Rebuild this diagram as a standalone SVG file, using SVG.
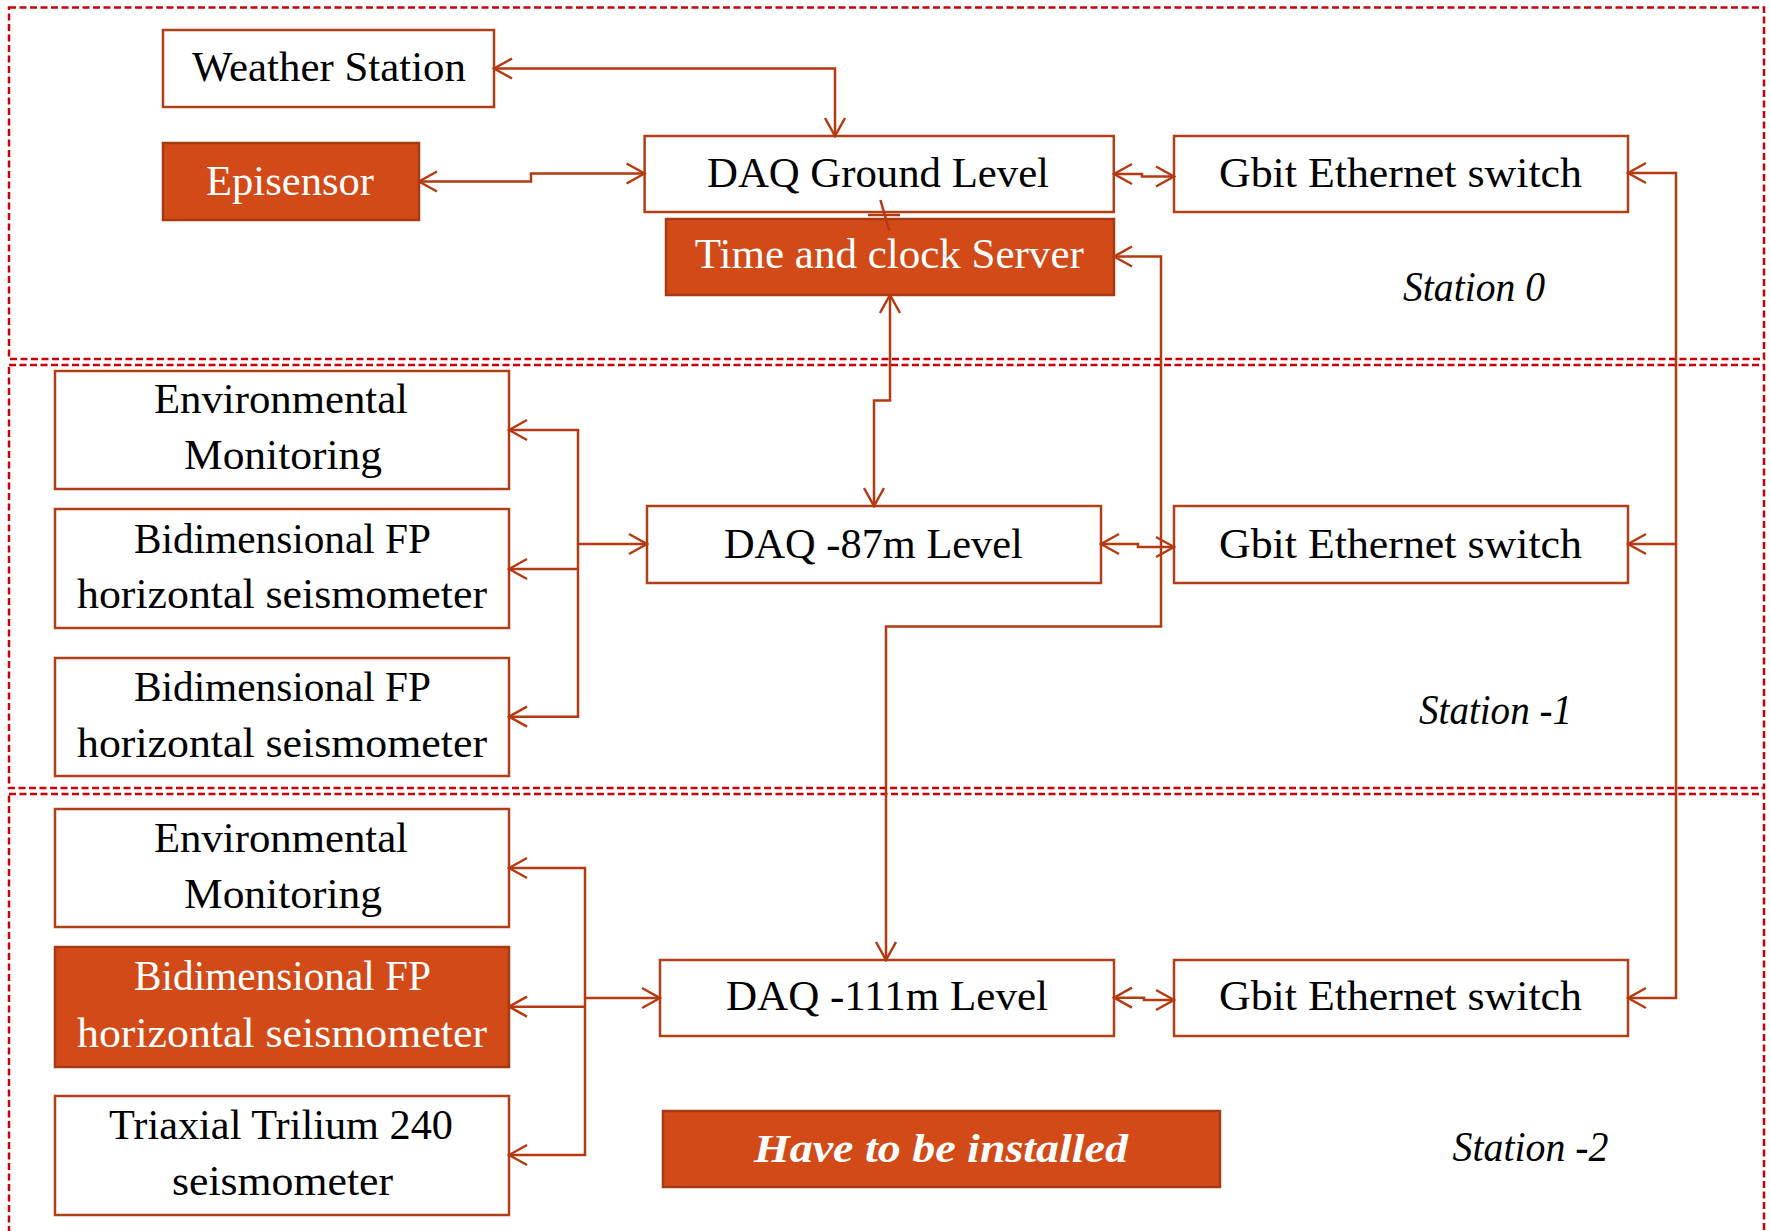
<svg xmlns="http://www.w3.org/2000/svg" width="1770" height="1231" viewBox="0 0 1770 1231">
  <defs>
    <style>
      .zone{fill:none;stroke:#c8000a;stroke-width:2.5;stroke-dasharray:7 3.5}
      .box{fill:#fff;stroke:#b03e16;stroke-width:2.5}
      .hot{fill:#d24a18;stroke:#a63a12;stroke-width:2.5}
      .t{font-family:"Liberation Serif","Times New Roman",serif;font-size:42px;fill:#000;text-anchor:middle}
      .w{fill:#fff}
      .lbl{font-family:"Liberation Serif","Times New Roman",serif;font-style:italic;font-size:42px;fill:#000}
      .note{font-family:"Liberation Serif","Times New Roman",serif;font-style:italic;font-weight:bold;font-size:40px;fill:#fff;text-anchor:middle}
      .wire{fill:none;stroke:#b53a12;stroke-width:2.5}
      .both{marker-start:url(#ah);marker-end:url(#ah)}
      .end{marker-end:url(#ah)}
    </style>
    <marker id="ah" markerUnits="userSpaceOnUse" viewBox="-20 -12 22 24" markerWidth="22" markerHeight="24" refX="0" refY="0" orient="auto-start-reverse">
      <path d="M-18,-10 L0,0 L-18,10" fill="none" stroke="#b53a12" stroke-width="2.5"/>
    </marker>
  </defs>
  <rect width="1770" height="1231" fill="#fff"/>

  <!-- station zones -->
  <g id="zones">
    <rect class="zone" x="9" y="7.5" width="1755" height="351.5"/>
    <rect class="zone" x="9" y="365" width="1755" height="423"/>
    <rect class="zone" x="9" y="794" width="1755" height="470"/>
    <text class="lbl" x="1403" y="301" textLength="142" lengthAdjust="spacingAndGlyphs">Station 0</text>
    <text class="lbl" x="1419" y="724" textLength="153" lengthAdjust="spacingAndGlyphs">Station -1</text>
    <text class="lbl" x="1452.5" y="1161" textLength="156" lengthAdjust="spacingAndGlyphs">Station -2</text>
  </g>

  <!-- station 0 -->
  <g id="weather-station">
    <rect class="box" x="163" y="30" width="331" height="77"/>
    <text class="t" x="329" y="81" textLength="274" lengthAdjust="spacingAndGlyphs">Weather Station</text>
  </g>
  <g id="episensor">
    <rect class="hot" x="163" y="143" width="256" height="77"/>
    <text class="t w" x="290" y="195" textLength="168" lengthAdjust="spacingAndGlyphs">Episensor</text>
  </g>
  <g id="daq-ground">
    <rect class="box" x="644.6" y="136" width="469.2" height="76"/>
    <text class="t" x="878" y="187" textLength="342" lengthAdjust="spacingAndGlyphs">DAQ  Ground Level</text>
  </g>
  <g id="switch-0">
    <rect class="box" x="1174" y="136" width="454" height="76"/>
    <text class="t" x="1400.5" y="187" textLength="363" lengthAdjust="spacingAndGlyphs">Gbit Ethernet switch</text>
  </g>
  <g id="time-server">
    <rect class="hot" x="666" y="219" width="448" height="76"/>
    <text class="t w" x="889.3" y="268" textLength="389" lengthAdjust="spacingAndGlyphs">Time and clock  Server</text>
  </g>

  <!-- station -1 -->
  <g id="env-1">
    <rect class="box" x="55" y="371" width="454" height="118"/>
    <text class="t" x="281" y="413" textLength="254" lengthAdjust="spacingAndGlyphs">Environmental</text>
    <text class="t" x="283" y="469" textLength="198" lengthAdjust="spacingAndGlyphs">Monitoring</text>
  </g>
  <g id="fp-1a">
    <rect class="box" x="55" y="509" width="454" height="119"/>
    <text class="t" x="282.5" y="553" textLength="297" lengthAdjust="spacingAndGlyphs">Bidimensional FP</text>
    <text class="t" x="282" y="608" textLength="410" lengthAdjust="spacingAndGlyphs">horizontal seismometer</text>
  </g>
  <g id="fp-1b">
    <rect class="box" x="55" y="658" width="454" height="118"/>
    <text class="t" x="282.5" y="701" textLength="297" lengthAdjust="spacingAndGlyphs">Bidimensional FP</text>
    <text class="t" x="282" y="757" textLength="410" lengthAdjust="spacingAndGlyphs">horizontal seismometer</text>
  </g>
  <g id="daq-87">
    <rect class="box" x="647" y="506" width="454" height="77"/>
    <text class="t" x="873.4" y="558" textLength="299" lengthAdjust="spacingAndGlyphs">DAQ  -87m Level</text>
  </g>
  <g id="switch-1">
    <rect class="box" x="1174" y="506" width="454" height="77"/>
    <text class="t" x="1400.5" y="558" textLength="363" lengthAdjust="spacingAndGlyphs">Gbit Ethernet switch</text>
  </g>

  <!-- station -2 -->
  <g id="env-2">
    <rect class="box" x="55" y="809" width="454" height="118"/>
    <text class="t" x="281" y="852" textLength="254" lengthAdjust="spacingAndGlyphs">Environmental</text>
    <text class="t" x="283" y="908" textLength="198" lengthAdjust="spacingAndGlyphs">Monitoring</text>
  </g>
  <g id="fp-2">
    <rect class="hot" x="55" y="947" width="454" height="120"/>
    <text class="t w" x="282.5" y="990" textLength="297" lengthAdjust="spacingAndGlyphs">Bidimensional FP</text>
    <text class="t w" x="282" y="1047" textLength="410" lengthAdjust="spacingAndGlyphs">horizontal seismometer</text>
  </g>
  <g id="trilium">
    <rect class="box" x="55" y="1096" width="454" height="119"/>
    <text class="t" x="281" y="1139" textLength="344" lengthAdjust="spacingAndGlyphs">Triaxial Trilium 240</text>
    <text class="t" x="282.5" y="1195" textLength="221" lengthAdjust="spacingAndGlyphs">seismometer</text>
  </g>
  <g id="daq-111">
    <rect class="box" x="660" y="960" width="454" height="76"/>
    <text class="t" x="887" y="1010" textLength="322" lengthAdjust="spacingAndGlyphs">DAQ  -111m Level</text>
  </g>
  <g id="switch-2">
    <rect class="box" x="1174" y="960" width="454" height="76"/>
    <text class="t" x="1400.5" y="1010" textLength="363" lengthAdjust="spacingAndGlyphs">Gbit Ethernet switch</text>
  </g>
  <g id="legend">
    <rect class="hot" x="663" y="1111" width="557" height="76"/>
    <text class="note" x="941" y="1162" textLength="374" lengthAdjust="spacingAndGlyphs">Have to be installed</text>
  </g>

  <!-- connectors, drawn over the boxes -->
  <g id="connectors">
    <path class="wire both" d="M494,68.5 H835 V136"/>
    <path class="wire both" d="M419,181.5 H531 V173.5 H644.6"/>
    <path class="wire both" d="M1114,174 H1142 V176.5 H1174"/>
    <path class="wire" d="M880.4,200 L889.3,230.7 M868,215 H900"/>
    <path class="wire both" d="M890,295 V400.5 H874 V506"/>
    <path class="wire both" d="M1114,256.5 H1161 V626.5 H886 V960"/>
    <path class="wire both" d="M1101,544 H1138 V547 H1174"/>
    <path class="wire both" d="M1628,173 H1676 V998 H1628"/>
    <path class="wire end" d="M1676,544 H1628"/>
    <path class="wire both" d="M509,430 H578 V716.7 H509"/>
    <path class="wire end" d="M578,569 H509"/>
    <path class="wire end" d="M578,544 H647"/>
    <path class="wire both" d="M509,868 H585 V1155 H509"/>
    <path class="wire end" d="M585,1006.7 H509"/>
    <path class="wire end" d="M585,998 H660"/>
    <path class="wire both" d="M1114,997.7 H1144 V1000 H1174"/>
  </g>
</svg>
